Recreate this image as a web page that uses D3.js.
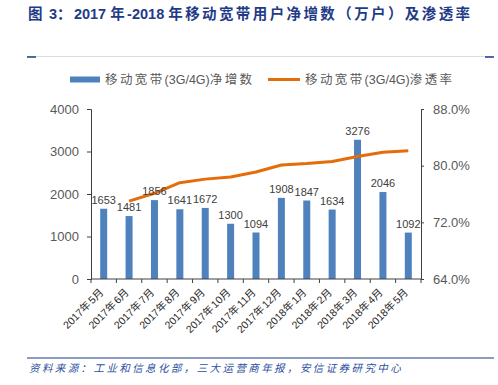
<!DOCTYPE html>
<html>
<head>
<meta charset="utf-8">
<script src="https://cdn.jsdelivr.net/npm/d3@7"></script>
<style>
  body { margin: 0; background: #fff; }
  svg { display: block; font-family: "Liberation Sans", Arial, "Noto Sans CJK SC", sans-serif; }
</style>
</head>
<body>
<svg id="chart" width="498" height="385"></svg>
<script>
// 月份
var months = ["2017年5月", "2017年6月", "2017年7月", "2017年8月", "2017年9月", "2017年10月",
              "2017年11月", "2017年12月", "2018年1月", "2018年2月", "2018年3月", "2018年4月", "2018年5月"];
// 净增数（万户）
var netAdds = [1653, 1481, 1856, 1641, 1672, 1300, 1094, 1908, 1847, 1634, 3276, 2046, 1092];
// 渗透率（%），5月无数据
var penetration = [null, 75.0, 76.1, 77.6, 78.1, 78.4, 79.1, 80.1, 80.3, 80.6, 81.3, 81.9, 82.1];

var leftTicks = [0, 1000, 2000, 3000, 4000];
var rightTicks = [64, 72, 80, 88];

(function() {
  "use strict";
  var svg = d3.select("#chart");
  var cjk = "\"Noto Sans CJK SC\", sans-serif";
  var latin = "\"Liberation Sans\", Arial, sans-serif";

  // 中文字间距大，西文正常
  function runs(sel, str, sp) {
    str.split(/([\u3000-\u9fff\uff00-\uffef]+)/).forEach(function(part) {
      if (!part) return;
      var isCjk = /[\u3000-\u9fff\uff00-\uffef]/.test(part);
      sel.append("tspan")
        .style("font-family", isCjk ? cjk : latin)
        .attr("letter-spacing", isCjk ? sp : 0)
        .text(part);
    });
    return sel;
  }

  var pL = 91, pR = 421, pT = 109, pB = 279;

  var x = d3.scaleBand().domain(months).range([pL, pR]).padding(0);
  var y = d3.scaleLinear().domain([0, 4000]).range([pB, pT]);
  var y2 = d3.scaleLinear().domain([64, 88]).range([pB, pT]);

  // 标题
  var title = svg.append("text")
    .attr("x", 28).attr("y", 19)
    .attr("font-size", 14.5).attr("font-weight", "bold")
    .attr("fill", "#1f3b87")
    .attr("xml:space", "preserve");
  runs(title, "图 3：2017 年-2018 年移动宽带用户净增数（万户）及渗透率", 2.4);

  svg.append("line").attr("x1", 28).attr("x2", 492).attr("y1", 56.5).attr("y2", 56.5)
    .attr("stroke", "#d8dce8").attr("stroke-width", 1);
  svg.append("line").attr("x1", 27).attr("x2", 36).attr("y1", 57).attr("y2", 57)
    .attr("stroke", "#1f3b87").attr("stroke-width", 1.5);
  svg.append("line").attr("x1", 485).attr("x2", 494).attr("y1", 57).attr("y2", 57)
    .attr("stroke", "#1f3b87").attr("stroke-width", 1.5);

  // 图例
  var lg = svg.append("g").attr("font-size", 12.5).attr("fill", "#595959");
  lg.append("rect").attr("x", 70).attr("y", 76.5).attr("width", 30).attr("height", 6).attr("fill", "#4f81bd");
  runs(lg.append("text").attr("x", 105).attr("y", 84), "移动宽带(3G/4G)净增数", 2.4);
  lg.append("line").attr("x1", 268).attr("x2", 300).attr("y1", 79.5).attr("y2", 79.5)
    .attr("stroke", "#e46c0a").attr("stroke-width", 3);
  runs(lg.append("text").attr("x", 305).attr("y", 84), "移动宽带(3G/4G)渗透率", 2.4);

  // 柱
  var barW = 7;
  svg.append("g").selectAll("rect").data(netAdds).join("rect")
    .attr("x", function(d, i) { return x(months[i]) + x.bandwidth() / 2 - barW / 2; })
    .attr("y", function(d) { return y(d); })
    .attr("width", barW)
    .attr("height", function(d) { return pB - y(d); })
    .attr("fill", "#4f81bd");

  // 折线
  var line = d3.line()
    .defined(function(d) { return d != null; })
    .x(function(d, i) { return x(months[i]) + x.bandwidth() / 2; })
    .y(function(d) { return y2(d); });
  svg.append("path").datum(penetration)
    .attr("d", line)
    .attr("fill", "none")
    .attr("stroke", "#e46c0a")
    .attr("stroke-width", 3)
    .attr("stroke-linejoin", "round");

  // 数值标签
  svg.append("g").selectAll("text").data(netAdds).join("text")
    .attr("x", function(d, i) { return x(months[i]) + x.bandwidth() / 2; })
    .attr("y", function(d) { return y(d) - 5; })
    .attr("text-anchor", "middle")
    .attr("font-size", 11)
    .attr("fill", "#404040")
    .style("font-family", latin)
    .text(function(d) { return d; });

  // 左轴
  var axL = svg.append("g").attr("transform", "translate(" + pL + ",0)")
    .call(d3.axisLeft(y).tickValues(leftTicks).tickSize(4).tickPadding(8).tickFormat(d3.format("d")));
  axL.select(".domain").attr("stroke", "#404040");
  axL.selectAll("line").attr("stroke", "#404040");
  axL.selectAll("text").attr("font-size", 13).attr("fill", "#595959")
    .style("font-family", latin);

  // 右轴
  var axR = svg.append("g").attr("transform", "translate(" + pR + ",0)")
    .call(d3.axisRight(y2).tickValues(rightTicks).tickSize(3).tickPadding(9)
      .tickFormat(function(d) { return d.toFixed(1) + "%"; }));
  axR.select(".domain").attr("stroke", "#404040");
  axR.selectAll("line").attr("stroke", "#404040");
  axR.selectAll("text").attr("font-size", 13).attr("fill", "#595959")
    .style("font-family", latin);

  // 横轴
  var axB = svg.append("g");
  axB.append("line").attr("x1", pL).attr("x2", pR).attr("y1", pB).attr("y2", pB)
    .attr("stroke", "#404040");
  axB.selectAll("line.tk").data(d3.range(months.length + 1)).join("line")
    .attr("class", "tk")
    .attr("x1", function(i) { return pL + i * x.bandwidth(); })
    .attr("x2", function(i) { return pL + i * x.bandwidth(); })
    .attr("y1", pB).attr("y2", pB + 4)
    .attr("stroke", "#404040");
  axB.selectAll("text.lbl").data(months).join("text")
    .attr("class", "lbl")
    .attr("transform", function(d) {
      return "translate(" + (x(d) + x.bandwidth() / 2 + 1.5) + "," + (pB + 13) + ") rotate(-45)";
    })
    .attr("text-anchor", "end")
    .attr("font-size", 10.5)
    .attr("fill", "#262626")
    .each(function(d) { runs(d3.select(this), d, 1.5); });

  // 资料来源
  svg.append("line").attr("x1", 27).attr("x2", 494).attr("y1", 358).attr("y2", 358)
    .attr("stroke", "#1f3b87").attr("stroke-width", 1.2);
  svg.append("text")
    .attr("x", 29).attr("y", 372)
    .attr("font-size", 10.5).attr("font-style", "italic")
    .attr("letter-spacing", 2.4)
    .attr("fill", "#2d4f9e")
    .style("font-family", cjk)
    .text("资料来源：工业和信息化部，三大运营商年报，安信证券研究中心");
})();
</script>
</body>
</html>
